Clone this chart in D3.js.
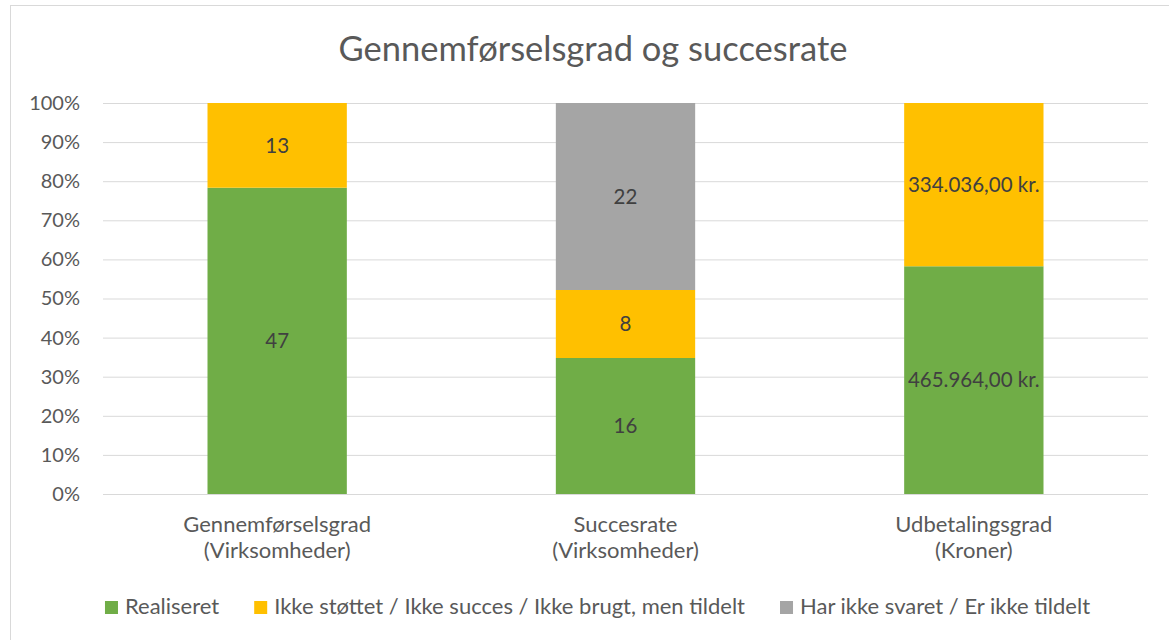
<!DOCTYPE html>
<html>
<head>
<meta charset="utf-8">
<script src="https://cdn.jsdelivr.net/npm/d3@7"></script>
<style>
    html, body { margin: 0; padding: 0; background: #fff; }
    text { font-family: Lato, "Open Sans", sans-serif; }
</style>
</head>
<body>
<div id="chart"></div>
<script>
'use strict';

// categories (two lines each)
const categories = ['Gennemførselsgrad (Virksomheder)', 'Succesrate (Virksomheder)', 'Udbetalingsgrad (Kroner)'];
const categoryLines = [['Gennemførselsgrad', '(Virksomheder)'], ['Succesrate', '(Virksomheder)'], ['Udbetalingsgrad', '(Kroner)']];
const units = ['', '', ' kr.'];

const seriesNames = ['Realiseret', 'Ikke støttet / Ikke succes / Ikke brugt, men tildelt', 'Har ikke svaret / Er ikke tildelt'];
const realiseret = [47, 16, 465964];
const ikkeStottet = [13, 8, 334036];
const harIkkeSvaret = [0, 22, 0];
const colors = ['#70ad47', '#ffc000', '#a5a5a5'];

const yTicks = [0, 0.1, 0.2, 0.3, 0.4, 0.5, 0.6, 0.7, 0.8, 0.9, 1];

const width = 1169, height = 640;
const margin = {top: 103, right: 21, bottom: 146, left: 103};

const svg = d3.select('#chart').append('svg')
    .attr('width', width)
    .attr('height', height);

// chart border
svg.append('rect')
    .attr('x', 10.5).attr('y', 5.5)
    .attr('width', 1200).attr('height', 700)
    .attr('fill', '#fff')
    .attr('stroke', '#d9d9d9');

svg.append('text')
    .attr('x', 593).attr('y', 61)
    .attr('text-anchor', 'middle')
    .attr('font-size', 34.5)
    .attr('fill', '#595959')
    .text('Gennemførselsgrad og succesrate');

const rows = categories.map((c, i) => ({
    cat: c, i: i,
    s0: realiseret[i], s1: ikkeStottet[i], s2: harIkkeSvaret[i]
}));

const stack = d3.stack().keys(['s0', 's1', 's2']).offset(d3.stackOffsetExpand);
const series = stack(rows);

const x = d3.scaleBand()
    .domain(categories)
    .range([margin.left, width - margin.right])
    .paddingInner(0.6)
    .paddingOuter(0.3);

const y = d3.scaleLinear()
    .domain([0, 1])
    .range([height - margin.bottom, margin.top]);

// gridlines
const yAxis = svg.append('g')
    .attr('transform', `translate(${margin.left},0)`)
    .call(d3.axisLeft(y).tickValues(yTicks).tickFormat(d3.format('.0%')).tickSize(-(width - margin.left - margin.right)).tickPadding(23));
yAxis.select('.domain').remove();
yAxis.selectAll('.tick line').attr('stroke', '#d9d9d9');
yAxis.selectAll('.tick text').attr('font-size', 20).attr('fill', '#595959');

const dk = d3.formatLocale({decimal: ',', thousands: '.', grouping: [3], currency: ['', ' kr.']});
const fmtKr = dk.format(',.2f');

series.forEach((s, k) => {
    const g = svg.append('g');
    g.selectAll('rect')
        .data(s)
        .join('rect')
        .attr('x', d => x(d.data.cat))
        .attr('width', x.bandwidth())
        .attr('y', d => y(d[1]))
        .attr('height', d => y(d[0]) - y(d[1]))
        .attr('fill', colors[k]);

    g.selectAll('text')
        .data(s.filter(d => d.data[s.key] > 0))
        .join('text')
        .attr('x', d => x(d.data.cat) + x.bandwidth() / 2)
        .attr('y', d => (y(d[0]) + y(d[1])) / 2)
        .attr('dy', '0.35em')
        .attr('text-anchor', 'middle')
        .attr('font-size', 20.5)
        .attr('fill', '#404040')
        .text(d => {
            var v = d.data[s.key];
            return units[d.data.i] ? fmtKr(v) + units[d.data.i] : v;
        });
});

// x axis baseline
svg.append('line')
    .attr('x1', margin.left).attr('x2', width - margin.right)
    .attr('y1', y(0) + 0.5).attr('y2', y(0) + 0.5)
    .attr('stroke', '#d9d9d9');

// category labels
categories.forEach((c, i) => {
    const t = svg.append('text')
        .attr('x', x(c) + x.bandwidth() / 2)
        .attr('y', 532)
        .attr('text-anchor', 'middle')
        .attr('font-size', 22)
        .attr('fill', '#595959');
    categoryLines[i].forEach((line, j) => {
        t.append('tspan')
            .attr('x', x(c) + x.bandwidth() / 2)
            .attr('dy', j === 0 ? 0 : 26)
            .text(line);
    });
});

// legend
const legend = svg.append('g');
var lx = 0;
seriesNames.forEach((name, k) => {
    const item = legend.append('g').attr('transform', `translate(${lx},0)`);
    item.append('rect')
        .attr('x', 0).attr('y', -13)
        .attr('width', 13).attr('height', 13)
        .attr('fill', colors[k]);
    const t = item.append('text')
        .attr('x', 20).attr('y', 0)
        .attr('font-size', 22)
        .attr('fill', '#595959')
        .text(name);
    lx += 20 + t.node().getComputedTextLength() + 35;
});
const legendWidth = lx - 35;
legend.attr('transform', `translate(${(width - legendWidth) / 2 + 13},614)`);
</script>
</body>
</html>
